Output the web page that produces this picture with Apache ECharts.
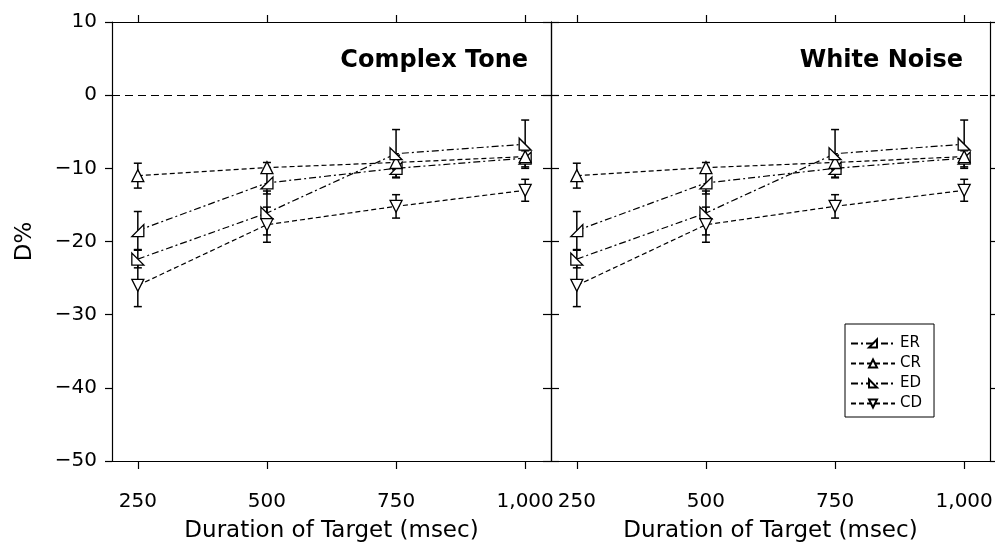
<!DOCTYPE html>
<html>
<head>
<meta charset="utf-8">
<script src="https://cdn.jsdelivr.net/npm/echarts@6/dist/echarts.min.js"></script>
<style>html,body{margin:0;padding:0;background:#fff}#c{width:995px;height:543px}</style>
</head>
<body>
<div id="c"></div>
<script>
// ---- data ----
const durations = [250, 500, 750, 1000];
const xTickValues = [250, 500, 750, 1000];
const panelTitles = ['Complex Tone', 'White Noise'];
const seriesNames = ['ER', 'CR', 'ED', 'CD'];

// Complex Tone panel
const toneER = [-18.5, -12.0, -10.0, -8.6];
const toneERerr = [2.6, 1.5, 1.2, 1.2];
const toneCR = [-11.0, -9.9, -9.2, -8.4];
const toneCRerr = [1.7, 0.7, 1.0, 0.8];
const toneED = [-22.4, -16.1, -8.0, -6.7];
const toneEDerr = [1.2, 3.0, 3.3, 3.3];
const toneCD = [-26.0, -17.7, -15.2, -13.0];
const toneCDerr = [2.9, 2.4, 1.6, 1.5];

// White Noise panel
const noiseER = [-18.5, -12.0, -10.0, -8.6];
const noiseERerr = [2.6, 1.5, 1.2, 1.2];
const noiseCR = [-11.0, -9.9, -9.2, -8.4];
const noiseCRerr = [1.7, 0.7, 1.0, 0.8];
const noiseED = [-22.4, -16.1, -8.0, -6.7];
const noiseEDerr = [1.2, 3.0, 3.3, 3.3];
const noiseCD = [-26.0, -17.7, -15.2, -13.0];
const noiseCDerr = [2.9, 2.4, 1.6, 1.5];

// ---- styles ----
const FONT = 'DejaVu Sans';
const symbols = {
  ER: 'path://M0,10 L10,10 L10,0 Z',
  CR: 'path://M5,0 L10,10 L0,10 Z',
  ED: 'path://M0,0 L0,10 L10,10 Z',
  CD: 'path://M0,0 L10,0 L5,10 Z'
};
const dashes = {
  ER: [7, 3, 2, 3],
  CR: [5, 3],
  ED: [7, 3, 2, 3],
  CD: [5, 3]
};

const panels = [
  { ER: toneER, CR: toneCR, ED: toneED, CD: toneCD,
    ERerr: toneERerr, CRerr: toneCRerr, EDerr: toneEDerr, CDerr: toneCDerr },
  { ER: noiseER, CR: noiseCR, ED: noiseED, CD: noiseCD,
    ERerr: noiseERerr, CRerr: noiseCRerr, EDerr: noiseEDerr, CDerr: noiseCDerr }
];

function fmtY(v) { return v < 0 ? '\u2212' + (-v) : String(v); }
function fmtX(v) { return v >= 1000 ? '1,000' : String(v); }

const axisLineStyle = { color: '#000', width: 1.2 };

const grids = [
  { left: 112, top: 22, width: 439, height: 439, outerBoundsMode: 'none', containLabel: false },
  { left: 551, top: 22, width: 439, height: 439, outerBoundsMode: 'none', containLabel: false }
];

const xAxes = [];
const yAxes = [];
[0, 1].forEach(g => {
  // bottom
  xAxes.push({
    gridIndex: g, type: 'value', min: 200, max: 1050, position: 'bottom',
    axisLine: { show: true, lineStyle: axisLineStyle, onZero: false },
    axisTick: { show: true, inside: false, length: 8, lineStyle: axisLineStyle, customValues: xTickValues },
    axisLabel: { show: true, customValues: xTickValues, formatter: fmtX, color: '#000', fontFamily: FONT, fontSize: 20, margin: 31 },
    splitLine: { show: false },
    name: 'Duration of Target (msec)', nameLocation: 'middle', nameGap: 59,
    nameTextStyle: { color: '#000', fontFamily: FONT, fontSize: 23 }
  });
  // top
  xAxes.push({
    gridIndex: g, type: 'value', min: 200, max: 1050, position: 'top',
    axisLine: { show: true, lineStyle: axisLineStyle, onZero: false },
    axisTick: { show: true, inside: false, length: 7, lineStyle: axisLineStyle, customValues: xTickValues },
    axisLabel: { show: false },
    splitLine: { show: false }
  });
  // left
  yAxes.push({
    gridIndex: g, type: 'value', min: -50, max: 10, interval: 10, position: 'left',
    axisLine: { show: true, lineStyle: axisLineStyle, onZero: false },
    axisTick: { show: true, inside: g === 1, length: g === 1 ? 8 : 7, lineStyle: axisLineStyle },
    axisLabel: { show: g === 0, formatter: fmtY, color: '#000', fontFamily: FONT, fontSize: 20, margin: 15 },
    splitLine: { show: false },
    name: g === 0 ? 'D%' : '', nameLocation: 'middle', nameGap: 75, nameRotate: 90,
    nameTextStyle: { color: '#000', fontFamily: FONT, fontSize: 23 }
  });
  // right
  yAxes.push({
    gridIndex: g, type: 'value', min: -50, max: 10, interval: 10, position: 'right',
    axisLine: { show: true, lineStyle: axisLineStyle, onZero: false },
    axisTick: { show: true, inside: g === 0, length: g === 0 ? 8 : 6, lineStyle: axisLineStyle },
    axisLabel: { show: false },
    splitLine: { show: false }
  });
});

function errRender(params, api) {
  const x = api.value(0);
  const lo = api.coord([x, api.value(1)]);
  const hi = api.coord([x, api.value(2)]);
  const w = 4;
  const st = { stroke: '#000', lineWidth: 1.5 };
  return {
    type: 'group',
    children: [
      { type: 'line', shape: { x1: lo[0], y1: lo[1], x2: hi[0], y2: hi[1] }, style: st },
      { type: 'line', shape: { x1: lo[0] - w, y1: lo[1], x2: lo[0] + w, y2: lo[1] }, style: st },
      { type: 'line', shape: { x1: hi[0] - w, y1: hi[1], x2: hi[0] + w, y2: hi[1] }, style: st }
    ]
  };
}

const series = [];
panels.forEach((p, g) => {
  const xi = g * 2, yi = g * 2;
  seriesNames.forEach((name) => {
    const mean = p[name], err = p[name + 'err'];
    series.push({
      name: name + ' error', type: 'custom', xAxisIndex: xi, yAxisIndex: yi, z: 1,
      renderItem: errRender, encode: { x: 0, y: [1, 2] },
      data: durations.map((d, i) => [d, mean[i] - err[i], mean[i] + err[i]]),
      silent: true
    });
  });
  seriesNames.forEach((name, k) => {
    const mean = p[name];
    const s = {
      name: name, type: 'line', xAxisIndex: xi, yAxisIndex: yi, z: 3,
      data: durations.map((d, i) => [d, mean[i]]),
      symbol: symbols[name], symbolSize: 12, showAllSymbol: true,
      itemStyle: { color: '#fff', borderColor: '#000', borderWidth: 1.3 },
      lineStyle: { color: '#000', width: 1.2, type: dashes[name] },
      emphasis: { disabled: true }
    };
    if (k === 0) {
      s.markLine = {
        silent: true, symbol: 'none', label: { show: false },
        lineStyle: { color: '#000', width: 1, type: [8, 5] },
        data: [{ yAxis: 0 }]
      };
    }
    series.push(s);
  });
});

const chart = echarts.init(document.getElementById('c'), null, { renderer: 'canvas' });
chart.setOption({
  animation: false,
  backgroundColor: '#fff',
  title: [
    { text: panelTitles[0], right: 467, top: 49, padding: 0,
      textStyle: { fontFamily: FONT, fontWeight: 'bold', fontSize: 24, color: '#000' } },
    { text: panelTitles[1], right: 32, top: 49, padding: 0,
      textStyle: { fontFamily: FONT, fontWeight: 'bold', fontSize: 24, color: '#000' } }
  ],
  legend: {
    data: seriesNames, orient: 'vertical', left: 845, top: 324,
    backgroundColor: '#fff', borderColor: '#000', borderWidth: 1,
    padding: [12, 12, 6, 5], itemGap: 5, itemWidth: 44, itemHeight: 10,
    textStyle: { fontFamily: FONT, fontSize: 15, color: '#000' },
    selectedMode: false
  },
  grid: grids,
  xAxis: xAxes,
  yAxis: yAxes,
  series: series
});
</script>
</body>
</html>
